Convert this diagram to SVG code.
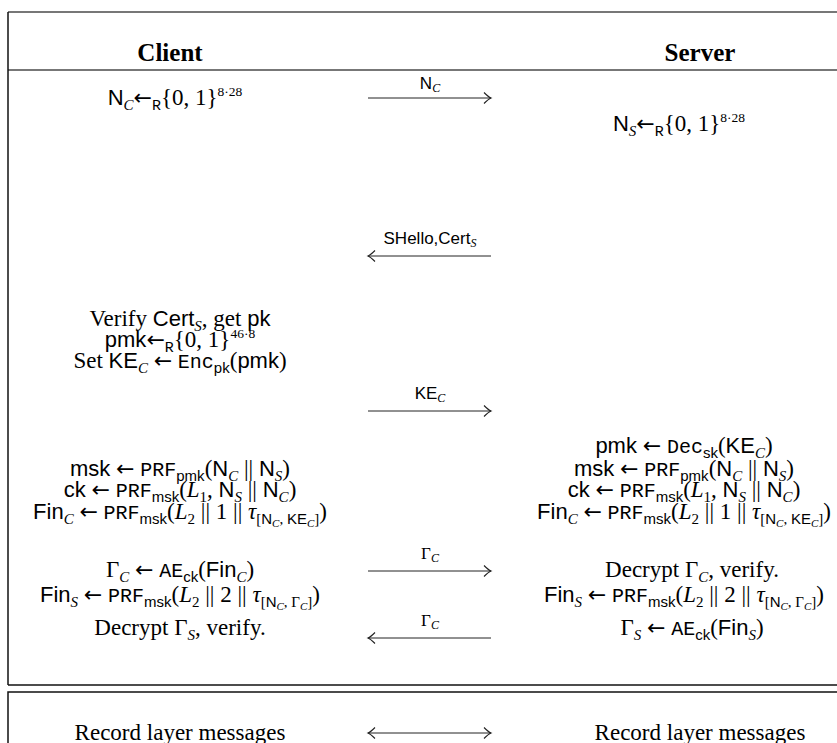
<svg xmlns="http://www.w3.org/2000/svg" width="837" height="743" viewBox="0 0 837 743">
<style>
.t{font-family:"Liberation Serif","DejaVu Serif",serif;font-size:23px;fill:#000;text-anchor:middle}
.sf{font-family:"Liberation Sans","DejaVu Sans",sans-serif;font-size:22px}
.tt{font-family:"Liberation Mono","DejaVu Sans Mono",monospace;font-size:20px}
.ar{font-family:"DejaVu Sans",sans-serif;font-size:22px}
.i{font-style:italic}
.s{font-size:15px}
.sup{font-size:13.5px}
.ss{font-size:11px}
.b{font-weight:bold;font-size:25px}
.lbl,.lbl .sf{font-size:17px}
.lbl .ss{font-size:12px}
.rule{stroke:#777;stroke-width:2}
.frame{stroke:#111;stroke-width:1.5;fill:none}
.arr{stroke:#222;stroke-width:1;fill:none}
</style>
<defs>
<marker id="ah" viewBox="-9 -7 11 14" refX="0" refY="0" markerWidth="11" markerHeight="14" markerUnits="userSpaceOnUse" orient="auto-start-reverse">
<path d="M-7,-5.5 Q-2.5,-1 0,0 Q-2.5,1 -7,5.5" fill="none" stroke="#222" stroke-width="1.1"/>
</marker>
</defs>
<rect width="837" height="743" fill="#fff"/>
<g id="frame">
<line class="rule" x1="8" y1="12" x2="837" y2="12"/>
<line class="rule" x1="8" y1="70" x2="837" y2="70"/>
<line class="frame" x1="8" y1="12" x2="8" y2="685"/>
<line class="frame" x1="8" y1="685" x2="837" y2="685"/>
<rect class="frame" x="8" y="692" width="900" height="100"/>
</g>
<g id="client-header"><text class="t b" x="170" y="61">Client</text></g>
<g id="server-header"><text class="t b" x="700" y="61">Server</text></g>
<g id="client-steps">
<text class="t" x="175" y="105"><tspan class="sf">N</tspan><tspan class="s i" dy="5">C</tspan><tspan class="ar" dy="-5">←</tspan><tspan class="tt s" dy="5">R</tspan><tspan dy="-5">{0, 1}</tspan><tspan class="sup" dy="-9">8·28</tspan></text>
<text class="t" x="180" y="326">Verify <tspan class="sf">Cert</tspan><tspan class="s i" dy="5">S</tspan><tspan dy="-5">, get </tspan><tspan class="sf">pk</tspan></text>
<text class="t" x="180" y="347"><tspan class="sf">pmk</tspan><tspan class="ar">←</tspan><tspan class="tt s" dy="5">R</tspan><tspan dy="-5">{0, 1}</tspan><tspan class="sup" dy="-9">46·8</tspan></text>
<text class="t" x="180" y="368">Set <tspan class="sf">KE</tspan><tspan class="s i" dy="5">C</tspan><tspan dy="-5"> </tspan><tspan class="ar">←</tspan> <tspan class="tt">Enc</tspan><tspan class="s sf" dy="5">pk</tspan><tspan dy="-5">(</tspan><tspan class="sf">pmk</tspan>)</text>
<text class="t" x="180" y="476"><tspan class="sf">msk</tspan> <tspan class="ar">←</tspan> <tspan class="tt">PRF</tspan><tspan class="s sf" dy="5">pmk</tspan><tspan dy="-5">(</tspan><tspan class="sf">N</tspan><tspan class="s i" dy="5">C</tspan><tspan dy="-5"> || </tspan><tspan class="sf">N</tspan><tspan class="s i" dy="5">S</tspan><tspan dy="-5">)</tspan></text>
<text class="t" x="180" y="497"><tspan class="sf">ck</tspan> <tspan class="ar">←</tspan> <tspan class="tt">PRF</tspan><tspan class="s sf" dy="5">msk</tspan><tspan dy="-5">(</tspan><tspan class="i">L</tspan><tspan class="s" dy="5">1</tspan><tspan dy="-5">, </tspan><tspan class="sf">N</tspan><tspan class="s i" dy="5">S</tspan><tspan dy="-5"> || </tspan><tspan class="sf">N</tspan><tspan class="s i" dy="5">C</tspan><tspan dy="-5">)</tspan></text>
<text class="t" x="180" y="519"><tspan class="sf">Fin</tspan><tspan class="s i" dy="5">C</tspan><tspan dy="-5"> </tspan><tspan class="ar">←</tspan> <tspan class="tt">PRF</tspan><tspan class="s sf" dy="5">msk</tspan><tspan dy="-5">(</tspan><tspan class="i">L</tspan><tspan class="s" dy="5">2</tspan><tspan dy="-5"> || 1 || </tspan><tspan class="i">τ</tspan><tspan class="s" dy="5">[</tspan><tspan class="s sf">N</tspan><tspan class="ss i" dy="3">C</tspan><tspan class="s" dy="-3">, </tspan><tspan class="s sf">KE</tspan><tspan class="ss i" dy="3">C</tspan><tspan class="s" dy="-3">]</tspan><tspan dy="-5">)</tspan></text>
<text class="t" x="180" y="577">Γ<tspan class="s i" dy="5">C</tspan><tspan dy="-5"> </tspan><tspan class="ar">←</tspan> <tspan class="tt">AE</tspan><tspan class="s sf" dy="5">ck</tspan><tspan dy="-5">(</tspan><tspan class="sf">Fin</tspan><tspan class="s i" dy="5">C</tspan><tspan dy="-5">)</tspan></text>
<text class="t" x="180" y="602"><tspan class="sf">Fin</tspan><tspan class="s i" dy="5">S</tspan><tspan dy="-5"> </tspan><tspan class="ar">←</tspan> <tspan class="tt">PRF</tspan><tspan class="s sf" dy="5">msk</tspan><tspan dy="-5">(</tspan><tspan class="i">L</tspan><tspan class="s" dy="5">2</tspan><tspan dy="-5"> || 2 || </tspan><tspan class="i">τ</tspan><tspan class="s" dy="5">[</tspan><tspan class="s sf">N</tspan><tspan class="ss i" dy="3">C</tspan><tspan class="s" dy="-3">, Γ</tspan><tspan class="ss i" dy="3">C</tspan><tspan class="s" dy="-3">]</tspan><tspan dy="-5">)</tspan></text>
<text class="t" x="180" y="635">Decrypt Γ<tspan class="s i" dy="5">S</tspan><tspan dy="-5">, verify.</tspan></text>
<text class="t" x="180" y="740">Record layer messages</text>
</g>
<g id="server-steps">
<text class="t" x="679" y="131"><tspan class="sf">N</tspan><tspan class="s i" dy="5">S</tspan><tspan class="ar" dy="-5">←</tspan><tspan class="tt s" dy="5">R</tspan><tspan dy="-5">{0, 1}</tspan><tspan class="sup" dy="-9">8·28</tspan></text>
<text class="t" x="684" y="453"><tspan class="sf">pmk</tspan> <tspan class="ar">←</tspan> <tspan class="tt">Dec</tspan><tspan class="s sf" dy="5">sk</tspan><tspan dy="-5">(</tspan><tspan class="sf">KE</tspan><tspan class="s i" dy="5">C</tspan><tspan dy="-5">)</tspan></text>
<text class="t" x="684" y="476"><tspan class="sf">msk</tspan> <tspan class="ar">←</tspan> <tspan class="tt">PRF</tspan><tspan class="s sf" dy="5">pmk</tspan><tspan dy="-5">(</tspan><tspan class="sf">N</tspan><tspan class="s i" dy="5">C</tspan><tspan dy="-5"> || </tspan><tspan class="sf">N</tspan><tspan class="s i" dy="5">S</tspan><tspan dy="-5">)</tspan></text>
<text class="t" x="684" y="497"><tspan class="sf">ck</tspan> <tspan class="ar">←</tspan> <tspan class="tt">PRF</tspan><tspan class="s sf" dy="5">msk</tspan><tspan dy="-5">(</tspan><tspan class="i">L</tspan><tspan class="s" dy="5">1</tspan><tspan dy="-5">, </tspan><tspan class="sf">N</tspan><tspan class="s i" dy="5">S</tspan><tspan dy="-5"> || </tspan><tspan class="sf">N</tspan><tspan class="s i" dy="5">C</tspan><tspan dy="-5">)</tspan></text>
<text class="t" x="684" y="519"><tspan class="sf">Fin</tspan><tspan class="s i" dy="5">C</tspan><tspan dy="-5"> </tspan><tspan class="ar">←</tspan> <tspan class="tt">PRF</tspan><tspan class="s sf" dy="5">msk</tspan><tspan dy="-5">(</tspan><tspan class="i">L</tspan><tspan class="s" dy="5">2</tspan><tspan dy="-5"> || 1 || </tspan><tspan class="i">τ</tspan><tspan class="s" dy="5">[</tspan><tspan class="s sf">N</tspan><tspan class="ss i" dy="3">C</tspan><tspan class="s" dy="-3">, </tspan><tspan class="s sf">KE</tspan><tspan class="ss i" dy="3">C</tspan><tspan class="s" dy="-3">]</tspan><tspan dy="-5">)</tspan></text>
<text class="t" x="692" y="577">Decrypt Γ<tspan class="s i" dy="5">C</tspan><tspan dy="-5">, verify.</tspan></text>
<text class="t" x="684" y="602"><tspan class="sf">Fin</tspan><tspan class="s i" dy="5">S</tspan><tspan dy="-5"> </tspan><tspan class="ar">←</tspan> <tspan class="tt">PRF</tspan><tspan class="s sf" dy="5">msk</tspan><tspan dy="-5">(</tspan><tspan class="i">L</tspan><tspan class="s" dy="5">2</tspan><tspan dy="-5"> || 2 || </tspan><tspan class="i">τ</tspan><tspan class="s" dy="5">[</tspan><tspan class="s sf">N</tspan><tspan class="ss i" dy="3">C</tspan><tspan class="s" dy="-3">, Γ</tspan><tspan class="ss i" dy="3">C</tspan><tspan class="s" dy="-3">]</tspan><tspan dy="-5">)</tspan></text>
<text class="t" x="692" y="635">Γ<tspan class="s i" dy="5">S</tspan><tspan dy="-5"> </tspan><tspan class="ar">←</tspan> <tspan class="tt">AE</tspan><tspan class="s sf" dy="5">ck</tspan><tspan dy="-5">(</tspan><tspan class="sf">Fin</tspan><tspan class="s i" dy="5">S</tspan><tspan dy="-5">)</tspan></text>
<text class="t" x="700" y="740">Record layer messages</text>
</g>
<g id="connectors">
<line class="arr" x1="368" y1="98" x2="491" y2="98" marker-end="url(#ah)"/>
<text class="t lbl" x="430" y="89"><tspan class="sf">N</tspan><tspan class="ss i" dy="3">C</tspan></text>
<line class="arr" x1="368" y1="256" x2="491" y2="256" marker-start="url(#ah)"/>
<text class="t lbl" x="430" y="244"><tspan class="sf">SHello,Cert</tspan><tspan class="ss i" dy="3">S</tspan></text>
<line class="arr" x1="368" y1="411" x2="491" y2="411" marker-end="url(#ah)"/>
<text class="t lbl" x="430" y="399"><tspan class="sf">KE</tspan><tspan class="ss i" dy="3">C</tspan></text>
<line class="arr" x1="368" y1="571" x2="491" y2="571" marker-end="url(#ah)"/>
<text class="t lbl" x="430" y="559">Γ<tspan class="ss i" dy="3">C</tspan></text>
<line class="arr" x1="368" y1="638" x2="491" y2="638" marker-start="url(#ah)"/>
<text class="t lbl" x="430" y="626">Γ<tspan class="ss i" dy="3">C</tspan></text>
<line class="arr" x1="368" y1="733" x2="491" y2="733" marker-start="url(#ah)" marker-end="url(#ah)"/>
</g>
</svg>
